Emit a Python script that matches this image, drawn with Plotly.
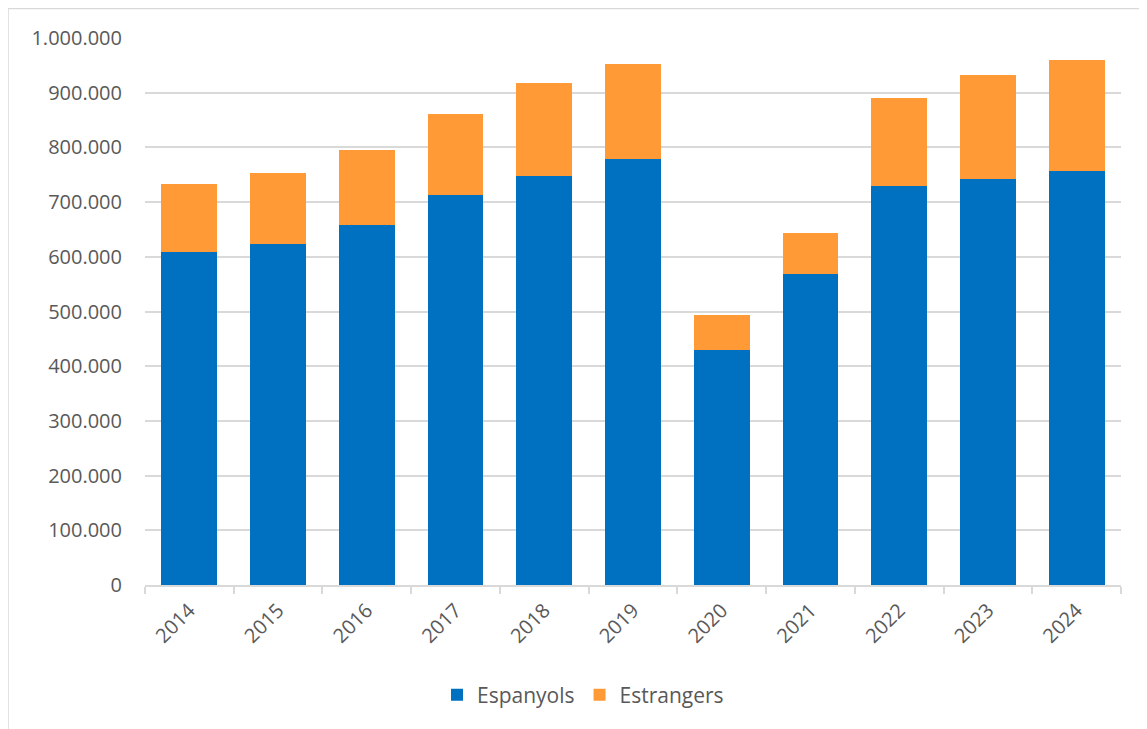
import plotly.graph_objects as go

years = ["2014", "2015", "2016", "2017", "2018", "2019", "2020", "2021", "2022", "2023", "2024"]
espanyols = [608000, 624000, 659000, 713000, 748000, 779000, 430000, 569000, 730000, 743000, 757000]
estrangers_total = [733000, 753000, 796000, 861000, 917000, 952000, 494000, 643000, 890000, 933000, 960000]
estrangers = [t - e for t, e in zip(estrangers_total, espanyols)]
y_ticks = [0, 100000, 200000, 300000, 400000, 500000, 600000, 700000, 800000, 900000, 1000000]

# page body has an 8px margin; figure coordinates are screen minus 8
OFF = 8
W, H = 1147 - OFF, 729 - OFF
L, R, T, B = 145 - OFF, 26, 38 - OFF, 144

fig = go.Figure()
fig.add_trace(go.Bar(x=years, y=espanyols, name="Espanyols",
                     marker=dict(color="#0070C0", line=dict(width=0))))
fig.add_trace(go.Bar(x=years, y=estrangers, name="Estrangers",
                     marker=dict(color="#FF9A36", line=dict(width=0))))

pw = W - L - R
ph = H - T - B
def px_x(p):  # screen px -> paper x
    return (p - OFF - L) / pw
def px_y(p):  # screen px -> paper y
    return (H - B - (p - OFF)) / ph

fig.update_layout(
    width=W, height=H,
    margin=dict(l=L, r=R, t=T, b=B),
    barmode="stack",
    bargap=0.37,
    separators=",.",
    paper_bgcolor="white",
    plot_bgcolor="white",
    font=dict(family="Open Sans", size=20, color="#595959"),
    legend=dict(orientation="h", x=px_x(583), y=px_y(695), xanchor="center", yanchor="middle",
                font=dict(size=21, color="#595959"), traceorder="normal"),
    xaxis=dict(type="category", tickangle=-45, showgrid=False, showline=True,
               linecolor="#d9d9d9", linewidth=1.5, ticks="outside", tickson="boundaries",
               ticklen=7, tickcolor="#d9d9d9", tickwidth=1.5, ticklabelstandoff=4,
               tickfont=dict(size=20, color="#595959")),
    yaxis=dict(range=[0, 1000000], tickvals=y_ticks, tickformat=",d", showgrid=True,
               gridcolor="#d9d9d9", gridwidth=1.5, zeroline=False, showline=False,
               ticks="", ticklabelstandoff=22, tickfont=dict(size=20, color="#595959")),
    shapes=[dict(type="rect", xref="paper", yref="paper",
                 x0=px_x(8), x1=px_x(1160), y0=px_y(740), y1=px_y(8.5),
                 line=dict(color="#d9d9d9", width=1.5), fillcolor="rgba(0,0,0,0)", layer="below")],
)

fig.write_html("out.html")
